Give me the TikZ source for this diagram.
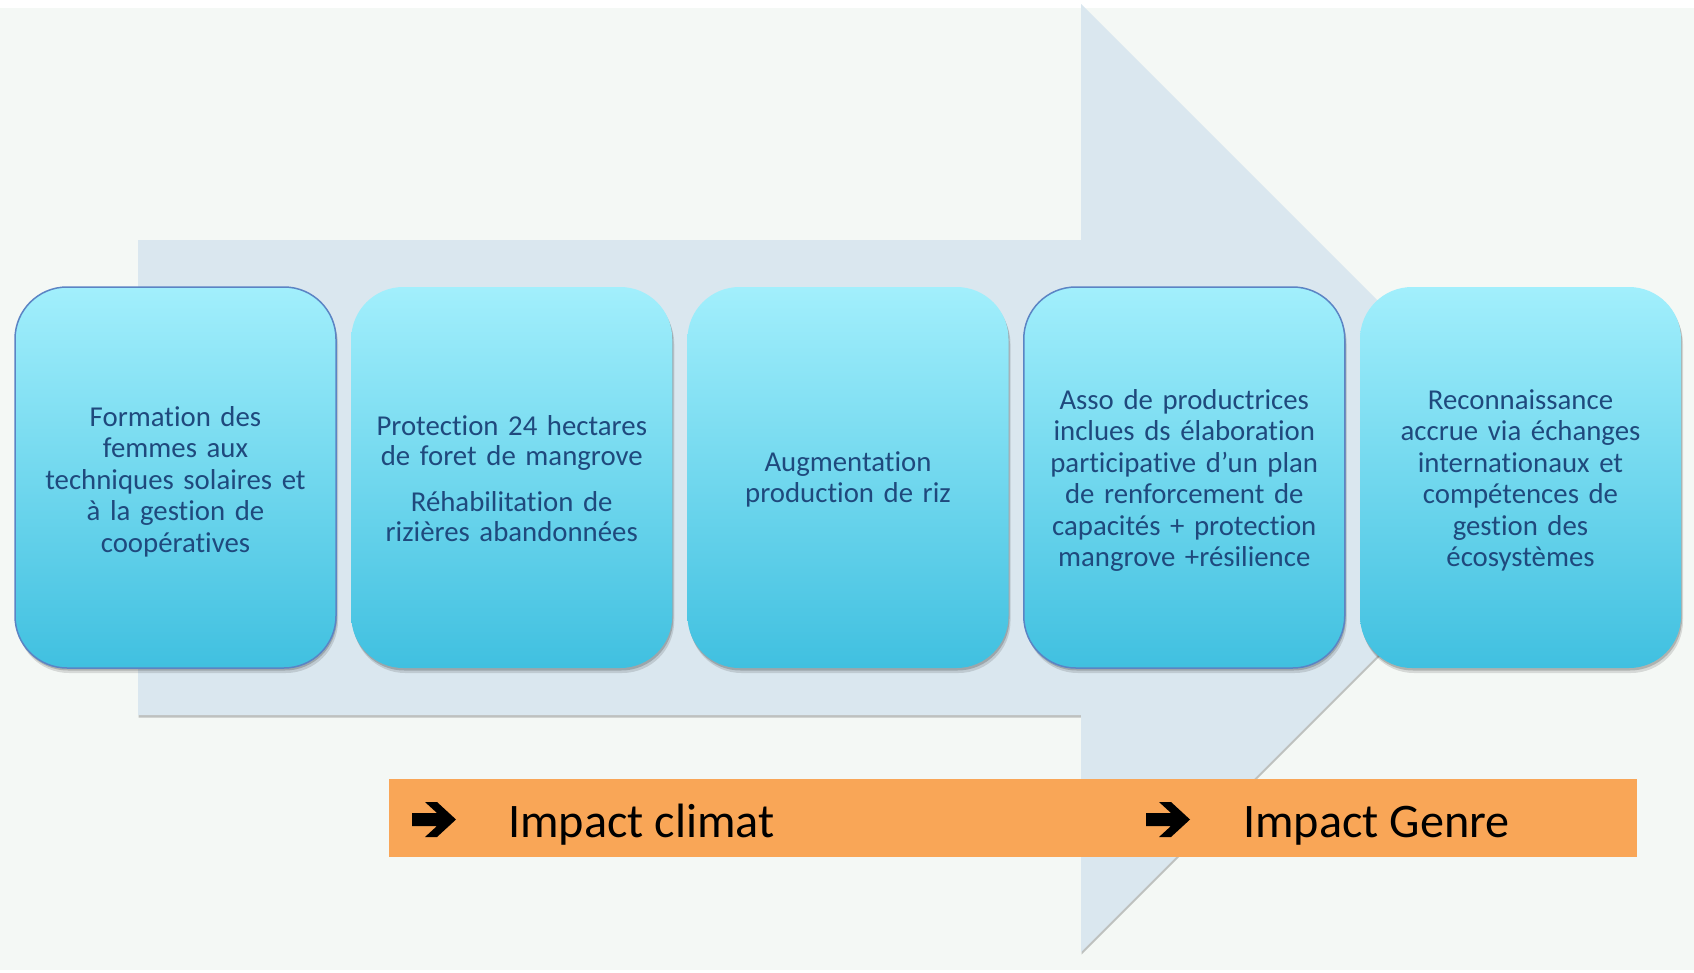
\documentclass[tikz,border=0pt]{standalone}
\usepackage{fontspec}
\setmainfont[Ligatures=NoCommon]{Carlito}
\usetikzlibrary{shadows}
\definecolor{bgc}{HTML}{F4F8F5}
\definecolor{arrowc}{HTML}{DAE7EF}
\definecolor{boxtop}{HTML}{A2EFFC}
\definecolor{boxbot}{HTML}{40C0E0}
\definecolor{boxline}{HTML}{5B84C4}
\definecolor{txt}{HTML}{1F497D}
\definecolor{barc}{HTML}{F9A657}
\tikzset{
  card/.style={rectangle, rounded corners=52pt, minimum width=321pt, minimum height=381pt,
    top color=boxtop, bottom color=boxbot, inner sep=0pt,
    drop shadow={shadow xshift=1pt, shadow yshift=-2.5pt, opacity=0.18, fill=black},
    drop shadow={shadow xshift=2pt, shadow yshift=-5pt, opacity=0.12, fill=black}},
  cardtext/.style={text width=305pt, align=center, text=txt, inner sep=0pt,
    font=\fontsize{28.8}{31.5}\selectfont},
  tight/.style={font=\fontsize{28.8}{30.3}\selectfont},
  edged/.style={draw=boxline, line width=1.5pt},
  bigarrow/.style={fill=arrowc,
    drop shadow={shadow xshift=0.5pt, shadow yshift=-2.5pt, opacity=0.22, fill=black}},
  band/.style={fill=barc, inner sep=0pt, minimum width=1248pt, minimum height=78pt},
  impact/.style={font=\fontsize{48.2}{50}\selectfont, text=black, inner sep=0pt, anchor=base west},
  glyph/.style={fill=black}
}
\begin{document}
\begin{tikzpicture}[x=1pt,y=-1pt]
\useasboundingbox (0,0) rectangle (1694,972);
\fill[white] (0,0) rectangle (1694,972);
\fill[bgc] (0,8) rectangle (1694,970);
% big arrow
\path[bigarrow] (138,240) -- (1081,240) -- (1081,4) -- (1555,478) -- (1081,952) -- (1081,715) -- (138,715) -- cycle;
% cards
\node[card, edged] (box1) at (175.5,477.5) {};
\node[card] (box2) at (511.75,477.5) {};
\node[card] (box3) at (848,477.5) {};
\node[card, edged] (box4) at (1184.25,477.5) {};
\node[card] (box5) at (1520.5,477.5) {};
\node[cardtext] (t1) at ([yshift=-4pt]box1.center) {Formation des\\ femmes aux\\ techniques solaires et\\ à la gestion de\\ coopératives};
\node[cardtext, tight] (t2) at ([yshift=-1pt]box2.center) {Protection 24 hectares\\ de foret de mangrove\\[15pt] Réhabilitation de\\ rizières abandonnées};
\node[cardtext, tight] (t3) at ([yshift=-2pt]box3.center) {Augmentation\\ production de riz};
\node[cardtext] (t4) at ([yshift=-3pt]box4.center) {Asso de productrices\\ inclues ds élaboration\\ participative d’un plan\\ de renforcement de\\ capacités + protection\\ mangrove +résilience};
\node[cardtext] (t5) at ([yshift=-3pt]box5.center) {Reconnaissance\\ accrue via échanges\\ internationaux et\\ compétences de\\ gestion des\\ écosystèmes};
% orange band
\node[band] (bar) at (1013,818) {};
\fill[glyph] (412,813) -- (437,813) -- (425,802) -- (437,802) -- (456,819.5) -- (437,837) -- (425,837) -- (437,826) -- (412,826) -- cycle;
\node[impact] (climat) at (508,837) {Impact climat};
\fill[glyph] (1146,813) -- (1171,813) -- (1159,802) -- (1171,802) -- (1190,819.5) -- (1171,837) -- (1159,837) -- (1171,826) -- (1146,826) -- cycle;
\node[impact] (genre) at (1243,837) {Impact Genre};
\end{tikzpicture}
\end{document}
